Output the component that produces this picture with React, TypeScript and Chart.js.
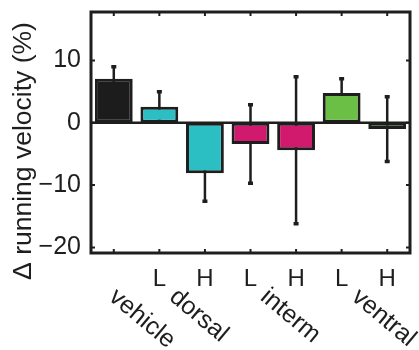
import React, { useEffect, useRef } from 'react';
import { Chart, registerables } from 'chart.js';

Chart.register(...registerables);

const categories = ['vehicle', 'dorsal L', 'dorsal H', 'interm L', 'interm H', 'ventral L', 'ventral H'];
const values = [7.1, 2.6, -8.1, -3.4, -4.4, 4.8, -1.0];
const errors = [1.9, 2.4, 4.5, 6.3, 11.8, 2.3, 5.2];
const barColors = ['#1c1c1c', '#2bbfc4', '#2bbfc4', '#d11a6e', '#d11a6e', '#6cbf45', '#6cbf45'];
const xTickLabels = ['', 'L', 'H', 'L', 'H', 'L', 'H'];
const yTickValues = [-20, -10, 0, 10];
const groupNames = ['vehicle', 'dorsal', 'interm', 'ventral'];
const groupFirst = [0, 1, 3, 5];
const groupLast = [0, 2, 4, 6];
const yTitle = '\u0394 running velocity (%)';

const INK = '#1e1e1e';
const FONT = '"Liberation Sans", Arial, sans-serif';

const customPlugin = {
  id: 'customDecor',
  beforeDatasetsDraw(chart: any) {
    const { ctx, chartArea, scales } = chart;
    const x = scales.x;
    const y = scales.y;
    ctx.save();
    ctx.strokeStyle = INK;
    ctx.lineCap = 'butt';
    const y0 = y.getPixelForValue(0);
    ctx.lineWidth = 2.5;
    ctx.beginPath();
    ctx.moveTo(chartArea.left, y0);
    ctx.lineTo(chartArea.right, y0);
    ctx.stroke();
    values.forEach((v, i) => {
      const px = x.getPixelForValue(i);
      const top = y.getPixelForValue(v + errors[i]);
      const bot = y.getPixelForValue(v - errors[i]);
      ctx.lineWidth = 2.5;
      ctx.beginPath();
      ctx.moveTo(px, top);
      ctx.lineTo(px, bot);
      ctx.stroke();
      ctx.lineWidth = 3.5;
      ctx.beginPath();
      ctx.moveTo(px - 2.5, top);
      ctx.lineTo(px + 2.5, top);
      ctx.moveTo(px - 2.5, bot);
      ctx.lineTo(px + 2.5, bot);
      ctx.stroke();
    });
    ctx.restore();
  },
  afterDraw(chart: any) {
    const { ctx, chartArea, scales } = chart;
    const x = scales.x;
    const y = scales.y;
    const { left, right, top, bottom } = chartArea;
    ctx.save();
    ctx.strokeStyle = INK;
    ctx.lineWidth = 3;
    ctx.strokeRect(left, top, right - left, bottom - top);
    ctx.lineWidth = 2;
    ctx.beginPath();
    categories.forEach((_, i) => {
      const px = x.getPixelForValue(i);
      ctx.moveTo(px, bottom);
      ctx.lineTo(px, bottom - 4);
      ctx.moveTo(px, top);
      ctx.lineTo(px, top + 4);
    });
    yTickValues.forEach((v) => {
      const py = y.getPixelForValue(v);
      ctx.moveTo(left, py);
      ctx.lineTo(left + 4, py);
      ctx.moveTo(right, py);
      ctx.lineTo(right - 4, py);
    });
    ctx.stroke();
    ctx.fillStyle = INK;
    ctx.font = `25px ${FONT}`;
    ctx.textAlign = 'left';
    ctx.textBaseline = 'alphabetic';
    groupNames.forEach((name, g) => {
      const single = groupFirst[g] === groupLast[g];
      const cx = (x.getPixelForValue(groupFirst[g]) + x.getPixelForValue(groupLast[g])) / 2;
      ctx.save();
      ctx.translate(cx - (single ? 6 : 14), bottom + 46);
      ctx.rotate((40 * Math.PI) / 180);
      ctx.fillText(name, 0, 0);
      ctx.restore();
    });
    ctx.save();
    ctx.font = `26.5px ${FONT}`;
    ctx.textAlign = 'center';
    ctx.textBaseline = 'alphabetic';
    ctx.translate(31, 151);
    ctx.rotate(-Math.PI / 2);
    ctx.fillText(yTitle, 0, 0);
    ctx.restore();
    ctx.restore();
  },
};

export default function App() {
  const canvasRef = useRef<HTMLCanvasElement | null>(null);

  useEffect(() => {
    document.body.style.margin = '0';
    const canvas = canvasRef.current;
    if (!canvas) return;
    const chart = new Chart(canvas, {
      type: 'bar',
      data: {
        labels: categories,
        datasets: [
          {
            data: values,
            backgroundColor: barColors,
            borderColor: INK,
            borderWidth: 3,
            borderSkipped: false,
            barPercentage: 0.83,
            categoryPercentage: 1,
          },
        ],
      },
      options: {
        animation: false,
        responsive: false,
        maintainAspectRatio: false,
        layout: { padding: { top: 12, right: 9, left: 0, bottom: 0 } },
        plugins: {
          legend: { display: false },
          tooltip: { enabled: false },
          title: { display: false },
        },
        scales: {
          x: {
            type: 'category',
            offset: true,
            grid: { display: false, drawTicks: false },
            border: { display: false },
            ticks: {
              autoSkip: false,
              maxRotation: 0,
              minRotation: 0,
              padding: 12,
              color: INK,
              font: { family: FONT, size: 24 },
              callback: (_v: any, i: number) => xTickLabels[i],
            },
            afterFit: (s: any) => {
              s.height = 97;
              s.paddingLeft = 0;
              s.paddingRight = 0;
            },
          },
          y: {
            min: -20.9,
            max: 17.8,
            grid: { display: false, drawTicks: false },
            border: { display: false },
            afterBuildTicks: (s: any) => {
              s.ticks = yTickValues.map((v) => ({ value: v }));
            },
            ticks: {
              padding: 10,
              color: INK,
              font: { family: FONT, size: 25 },
              callback: (v: any) => (v < 0 ? '\u2212' + Math.abs(v) : String(v)),
            },
            afterFit: (s: any) => {
              s.width = 91;
              s.paddingTop = 0;
              s.paddingBottom = 0;
            },
          },
        },
      },
      plugins: [customPlugin],
    });
    return () => chart.destroy();
  }, []);

  return (
    <div style={{ width: 419, height: 350 }}>
      <canvas ref={canvasRef} width={419} height={350} style={{ width: 419, height: 350, display: 'block' }} />
    </div>
  );
}
